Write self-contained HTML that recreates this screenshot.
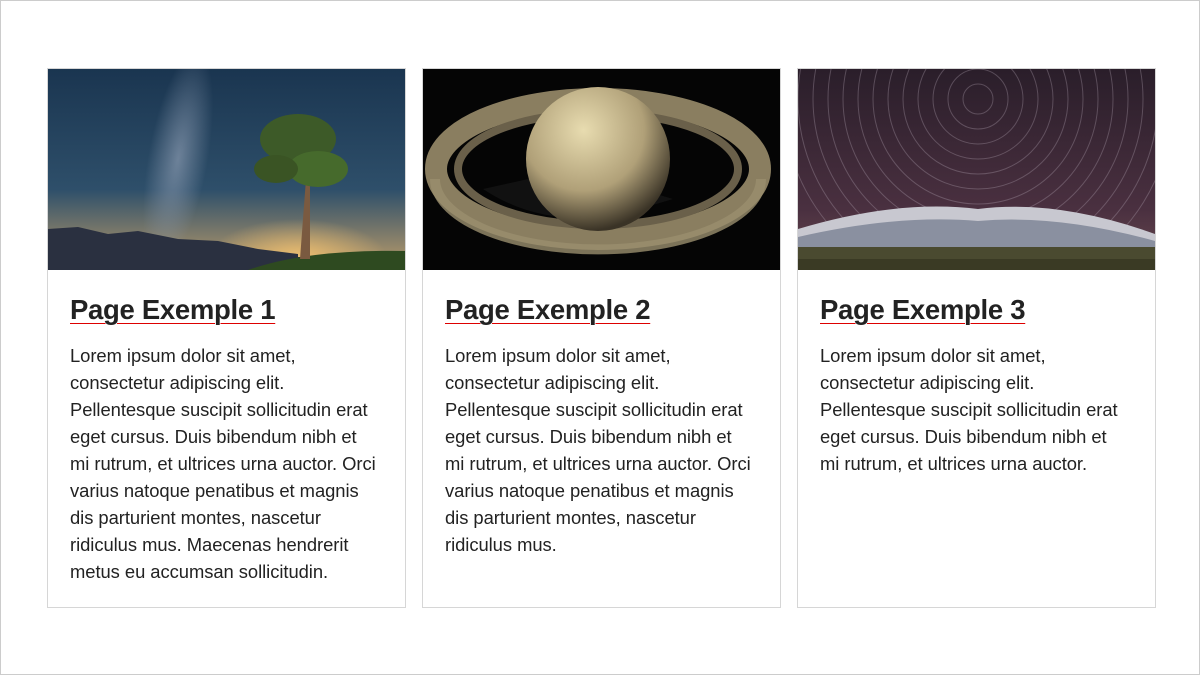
<!DOCTYPE html>
<html><head><meta charset="utf-8"><style>
html,body{margin:0;padding:0;}
body{width:1200px;height:675px;position:relative;background:#fff;font-family:"Liberation Sans",sans-serif;color:#222;overflow:hidden;}
.frame{position:absolute;left:0;top:0;width:1198px;height:673px;border:1px solid #ccc;}
.card{position:absolute;top:68px;width:357px;height:538px;border:1px solid #d6d6d6;background:#fff;}
.img{position:absolute;left:0;top:0;width:357px;height:201px;overflow:hidden;}
h2{position:absolute;left:22px;top:225px;margin:0;font-size:27.5px;font-weight:bold;letter-spacing:-0.3px;color:#222;text-decoration:underline;text-decoration-color:#d00;text-decoration-thickness:1px;text-underline-offset:4px;}
p{position:absolute;left:22px;top:273px;margin:0;font-size:18.4px;line-height:27px;color:#222;white-space:nowrap;letter-spacing:-0.05px;}
</style></head><body>
<div class="frame"></div>

<div class="card" style="left:47px">
 <div class="img">
  <svg width="357" height="201">
   <defs>
    <linearGradient id="s1" x1="0" y1="0" x2="0" y2="1"><stop offset="0" stop-color="#1a3550"/><stop offset="0.6" stop-color="#2e4f6a"/><stop offset="0.9" stop-color="#9a8a6a"/></linearGradient>
    <radialGradient id="mw" cx="0.5" cy="0.5" r="0.5"><stop offset="0" stop-color="#8a9ab0" stop-opacity="0.7"/><stop offset="1" stop-color="#8a9ab0" stop-opacity="0"/></radialGradient>
    <radialGradient id="gl" cx="0.5" cy="0.5" r="0.5"><stop offset="0" stop-color="#f0c070"/><stop offset="1" stop-color="#f0c070" stop-opacity="0"/></radialGradient>
   </defs>
   <rect width="357" height="201" fill="url(#s1)"/>
   <ellipse cx="130" cy="90" rx="30" ry="110" fill="url(#mw)" transform="rotate(10 130 90)"/>
   <ellipse cx="250" cy="190" rx="90" ry="40" fill="url(#gl)"/>
   <path d="M0 160 L30 158 L60 165 L90 162 L130 170 L170 172 L210 180 L250 185 L250 201 L0 201Z" fill="#2a3040"/>
   <rect x="0" y="188" width="357" height="13" fill="#2a3040"/>
   <path d="M200 201 Q260 180 357 182 L357 201Z" fill="#2e4a20"/>
   <path d="M252 190 L258 110 L262 110 L262 190Z" fill="#7a5a40"/>
   <ellipse cx="250" cy="70" rx="38" ry="25" fill="#3d5a28"/>
   <ellipse cx="270" cy="100" rx="30" ry="18" fill="#466a2c"/>
   <ellipse cx="228" cy="100" rx="22" ry="14" fill="#3a5424"/>
  </svg>
 </div>
 <h2>Page Exemple 1</h2>
 <p>Lorem ipsum dolor sit amet,<br>consectetur adipiscing elit.<br>Pellentesque suscipit sollicitudin erat<br>eget cursus. Duis bibendum nibh et<br>mi rutrum, et ultrices urna auctor. Orci<br>varius natoque penatibus et magnis<br>dis parturient montes, nascetur<br>ridiculus mus. Maecenas hendrerit<br>metus eu accumsan sollicitudin.</p>
</div>

<div class="card" style="left:422px">
 <div class="img">
  <svg width="357" height="201">
   <defs>
    <radialGradient id="pl" cx="0.4" cy="0.3" r="0.7"><stop offset="0" stop-color="#e8dcb0"/><stop offset="0.6" stop-color="#b0a078"/><stop offset="1" stop-color="#3a3326"/></radialGradient>
   </defs>
   <rect width="357" height="201" fill="#050505"/>
   <ellipse cx="175" cy="100" rx="162" ry="70" fill="none" stroke="#8a7e60" stroke-width="22"/>
   <ellipse cx="175" cy="100" rx="140" ry="56" fill="none" stroke="#6a604a" stroke-width="8"/>
   <path d="M60 120 Q120 160 200 145 L250 130 L150 100Z" fill="#111"/>
   <circle cx="175" cy="90" r="72" fill="url(#pl)"/>
   <path d="M12 110 A162 70 0 0 0 338 110" fill="none" stroke="#9a8e6e" stroke-width="10" opacity="0.8"/>
  </svg>
 </div>
 <h2>Page Exemple 2</h2>
 <p>Lorem ipsum dolor sit amet,<br>consectetur adipiscing elit.<br>Pellentesque suscipit sollicitudin erat<br>eget cursus. Duis bibendum nibh et<br>mi rutrum, et ultrices urna auctor. Orci<br>varius natoque penatibus et magnis<br>dis parturient montes, nascetur<br>ridiculus mus.</p>
</div>

<div class="card" style="left:797px">
 <div class="img">
  <svg width="357" height="201">
   <defs>
    <linearGradient id="s3" x1="0" y1="0" x2="0" y2="1"><stop offset="0" stop-color="#2a1e2a"/><stop offset="0.7" stop-color="#4a3040"/><stop offset="1" stop-color="#6a4a50"/></linearGradient>
   </defs>
   <rect width="357" height="201" fill="url(#s3)"/>
   <g fill="none" stroke="#b0a0b0" stroke-opacity="0.35" stroke-width="1">
    <circle cx="180" cy="30" r="15"/><circle cx="180" cy="30" r="30"/><circle cx="180" cy="30" r="45"/><circle cx="180" cy="30" r="60"/><circle cx="180" cy="30" r="75"/><circle cx="180" cy="30" r="90"/><circle cx="180" cy="30" r="105"/><circle cx="180" cy="30" r="120"/><circle cx="180" cy="30" r="135"/><circle cx="180" cy="30" r="150"/><circle cx="180" cy="30" r="165"/><circle cx="180" cy="30" r="180"/><circle cx="180" cy="30" r="195"/>
   </g>
   <path d="M0 160 Q100 130 180 140 Q260 130 357 165 L357 180 L0 180Z" fill="#c8c8d0"/>
   <path d="M0 168 Q100 145 180 152 Q260 145 357 172 L357 180 L0 180Z" fill="#8a90a0"/>
   <rect x="0" y="178" width="357" height="23" fill="#4a4a30"/>
   <rect x="0" y="190" width="357" height="11" fill="#3a3a24"/>
  </svg>
 </div>
 <h2>Page Exemple 3</h2>
 <p>Lorem ipsum dolor sit amet,<br>consectetur adipiscing elit.<br>Pellentesque suscipit sollicitudin erat<br>eget cursus. Duis bibendum nibh et<br>mi rutrum, et ultrices urna auctor.</p>
</div>
</body></html>
